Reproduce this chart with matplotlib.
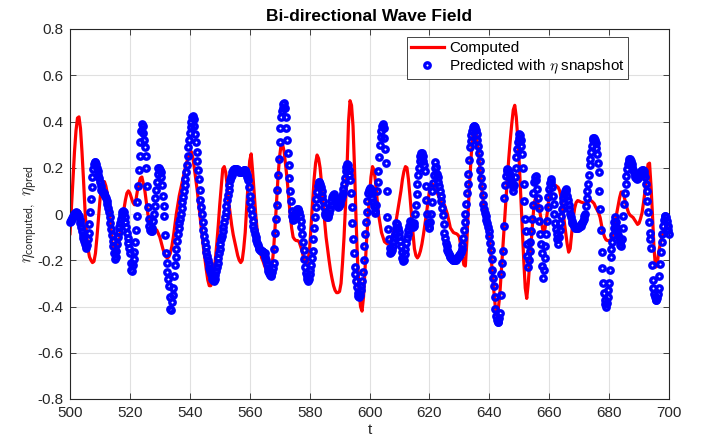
import numpy as np
import matplotlib
matplotlib.use("Agg")
import matplotlib.pyplot as plt

plt.rcParams['font.family'] = ['Liberation Sans', 'DejaVu Sans']
plt.rcParams['mathtext.fontset'] = 'cm'
plt.rcParams['axes.unicode_minus'] = False

# computed surface elevation, sampled every 0.5 s from t=500 to t=700
eta_computed = [
    -0.085, 0.03, 0.15, 0.27, 0.36, 0.415, 0.42, 0.37, 0.27, 0.15, 0.02, -0.08, -0.15, -0.185, -0.2, -0.21, -0.205, -0.17, -0.1, -0.02,
    0.06, 0.12, 0.14, 0.14, 0.12, 0.085, 0.04, -0.04, -0.12, -0.155, -0.17, -0.165, -0.15, -0.11, -0.07, -0.02, 0.02, 0.06, 0.09, 0.10,
    0.09, 0.07, 0.05, 0.04, 0.06, 0.1, 0.13, 0.155, 0.16, 0.13, 0.1, 0.05, 0.0, -0.03, -0.05, -0.055, -0.06, -0.065, -0.07, -0.085,
    -0.1, -0.125, -0.15, -0.17, -0.185, -0.19, -0.185, -0.17, -0.14, -0.1, -0.05, 0.0, 0.04, 0.08, 0.11, 0.14, 0.17, 0.2, 0.225, 0.245,
    0.26, 0.27, 0.245, 0.2, 0.15, 0.1, 0.04, -0.02, -0.08, -0.14, -0.19, -0.24, -0.285, -0.31, -0.31, -0.29, -0.25, -0.2, -0.13, -0.05,
    0.04, 0.12, 0.195, 0.205, 0.18, 0.12, 0.05, 0.0, -0.05, -0.09, -0.12, -0.15, -0.18, -0.2, -0.21, -0.2, -0.15, -0.08, 0.03, 0.14,
    0.23, 0.26, 0.18, 0.09, 0.0, -0.07, -0.12, -0.16, -0.19, -0.205, -0.225, -0.24, -0.25, -0.26, -0.25, -0.22, -0.15, -0.05, 0.06, 0.17,
    0.25, 0.3, 0.3, 0.27, 0.21, 0.15, 0.075, 0.0, -0.06, -0.1, -0.11, -0.115, -0.115, -0.12, -0.14, -0.16, -0.19, -0.21, -0.22, -0.2,
    -0.15, -0.05, 0.05, 0.15, 0.22, 0.255, 0.24, 0.2, 0.13, 0.05, -0.03, -0.1, -0.15, -0.2, -0.245, -0.28, -0.31, -0.33, -0.34, -0.34,
    -0.335, -0.3, -0.21, -0.1, 0.04, 0.2, 0.4, 0.49, 0.47, 0.38, 0.2, -0.02, -0.2, -0.33, -0.4, -0.42, -0.36, -0.24, -0.12, -0.02,
    0.08, 0.16, 0.205, 0.19, 0.14, 0.07, 0.0, -0.04, -0.08, -0.1, -0.12, -0.125, -0.13, -0.13, -0.12, -0.1, -0.08, -0.05, -0.02, 0.02,
    0.06, 0.1, 0.15, 0.185, 0.205, 0.2, 0.15, 0.08, 0.0, -0.08, -0.15, -0.18, -0.19, -0.18, -0.16, -0.13, -0.09, -0.045, 0.0, 0.05,
    0.1, 0.125, 0.13, 0.12, 0.11, 0.095, 0.08, 0.065, 0.05, 0.045, 0.04, 0.02, 0.0, -0.03, -0.06, -0.07, -0.08, -0.083, -0.085, -0.09,
    -0.1, -0.14, -0.18, -0.22, -0.225, -0.12, 0.03, 0.15, 0.26, 0.34, 0.37, 0.36, 0.31, 0.25, 0.18, 0.11, 0.05, 0.01, -0.03, -0.06,
    -0.1, -0.17, -0.25, -0.33, -0.4, -0.44, -0.41, -0.35, -0.25, -0.15, -0.05, 0.05, 0.15, 0.24, 0.32, 0.39, 0.45, 0.47, 0.42, 0.33,
    0.22, 0.08, -0.05, -0.2, -0.32, -0.365, -0.3, -0.21, -0.12, -0.03, 0.05, 0.07, 0.06, 0.03, 0.0, -0.04, -0.08, -0.07, -0.03, 0.02,
    0.08, 0.105, 0.12, 0.125, 0.125, 0.12, 0.115, 0.1, 0.07, 0.02, -0.03, -0.08, -0.13, -0.165, -0.15, -0.085, -0.02, 0.025, 0.05, 0.058,
    0.056, 0.052, 0.05, 0.048, 0.046, 0.045, 0.05, 0.06, 0.058, 0.052, 0.045, 0.03, 0.018, 0.005, -0.015, -0.05, -0.08, -0.1, -0.112, -0.115,
    -0.115, -0.112, -0.1, -0.07, -0.035, 0.0, 0.035, 0.07, 0.095, 0.095, 0.075, 0.05, 0.025, 0.005, -0.005, -0.01, -0.015, -0.025, -0.035, -0.045,
    -0.04, -0.02, 0.005, 0.05, 0.1, 0.16, 0.215, 0.22, 0.12, -0.01, -0.15, -0.23, -0.225, -0.17, -0.135, -0.105, -0.085, -0.065, -0.055, -0.048,
    -0.045,
]

# predicted from the eta snapshot, sampled every 0.25 s
eta_pred = [
    -0.035, -0.03, -0.025, -0.018, -0.01, -0.005, 0.0, 0.005, 0.007, 0.006, 0.003, -0.003, -0.01, -0.025, -0.04, -0.058, -0.075, -0.09, -0.105, -0.118,
    -0.13, -0.14, -0.145, -0.135, -0.11, -0.08, -0.045, 0.01, 0.065, 0.115, 0.16, 0.195, 0.215, 0.225, 0.225, 0.215, 0.2, 0.185, 0.17, 0.155,
    0.14, 0.12, 0.105, 0.1, 0.095, 0.09, 0.085, 0.078, 0.07, 0.058, 0.045, 0.028, 0.01, -0.015, -0.04, -0.065, -0.09, -0.115, -0.14, -0.17,
    -0.195, -0.185, -0.16, -0.13, -0.1, -0.078, -0.055, -0.037, -0.02, -0.004, 0.01, 0.015, 0.01, -0.012, -0.035, -0.058, -0.08, -0.102, -0.125, -0.148,
    -0.17, -0.21, -0.24, -0.245, -0.22, -0.195, -0.165, -0.12, -0.07, -0.01, 0.05, 0.12, 0.19, 0.25, 0.31, 0.36, 0.39, 0.38, 0.35, 0.32,
    0.29, 0.25, 0.2, 0.12, 0.03, -0.02, -0.05, -0.068, -0.075, -0.072, -0.06, -0.03, 0.0, 0.035, 0.07, 0.105, 0.14, 0.175, 0.2, 0.2,
    0.19, 0.18, 0.16, 0.125, 0.08, 0.035, -0.01, -0.09, -0.17, -0.21, -0.25, -0.28, -0.31, -0.36, -0.41, -0.415, -0.38, -0.35, -0.32, -0.27,
    -0.22, -0.185, -0.15, -0.118, -0.085, -0.062, -0.04, -0.02, 0.0, 0.025, 0.05, 0.075, 0.1, 0.125, 0.15, 0.18, 0.21, 0.25, 0.29, 0.32,
    0.35, 0.375, 0.4, 0.42, 0.425, 0.41, 0.38, 0.345, 0.31, 0.27, 0.23, 0.19, 0.15, 0.105, 0.06, 0.03, 0.0, -0.035, -0.07, -0.095,
    -0.12, -0.143, -0.165, -0.183, -0.2, -0.218, -0.235, -0.248, -0.26, -0.27, -0.28, -0.287, -0.29, -0.28, -0.265, -0.248, -0.23, -0.21, -0.19, -0.17,
    -0.15, -0.13, -0.11, -0.093, -0.075, -0.055, -0.035, -0.013, 0.01, 0.035, 0.06, 0.083, 0.105, 0.125, 0.145, 0.158, 0.17, 0.18, 0.19, 0.193,
    0.195, 0.196, 0.195, 0.193, 0.19, 0.186, 0.182, 0.18, 0.18, 0.182, 0.185, 0.188, 0.19, 0.192, 0.19, 0.18, 0.17, 0.16, 0.145, 0.115,
    0.08, 0.05, 0.02, -0.005, -0.03, -0.05, -0.07, -0.085, -0.1, -0.113, -0.125, -0.135, -0.145, -0.15, -0.155, -0.158, -0.16, -0.162, -0.165, -0.167,
    -0.17, -0.185, -0.2, -0.218, -0.235, -0.245, -0.255, -0.263, -0.27, -0.265, -0.25, -0.235, -0.21, -0.15, -0.08, -0.02, 0.04, 0.105, 0.17, 0.24,
    0.31, 0.37, 0.42, 0.445, 0.46, 0.475, 0.48, 0.46, 0.42, 0.37, 0.32, 0.265, 0.21, 0.155, 0.1, 0.055, 0.015, -0.01, -0.025, -0.02,
    -0.01, 0.003, 0.015, 0.02, 0.02, 0.017, 0.01, -0.01, -0.03, -0.057, -0.085, -0.12, -0.155, -0.195, -0.23, -0.255, -0.27, -0.283, -0.29, -0.28,
    -0.26, -0.24, -0.22, -0.19, -0.16, -0.11, -0.06, -0.015, 0.03, 0.065, 0.095, 0.12, 0.14, 0.14, 0.13, 0.117, 0.1, 0.078, 0.055, 0.03,
    0.005, -0.005, -0.01, -0.013, -0.015, -0.006, 0.005, 0.022, 0.04, 0.058, 0.075, 0.082, 0.085, 0.08, 0.07, 0.06, 0.05, 0.04, 0.032, 0.036,
    0.045, 0.055, 0.065, 0.077, 0.09, 0.108, 0.13, 0.157, 0.185, 0.205, 0.215, 0.21, 0.19, 0.17, 0.145, 0.09, 0.03, -0.04, -0.11, -0.17,
    -0.23, -0.26, -0.29, -0.315, -0.34, -0.355, -0.36, -0.35, -0.33, -0.31, -0.29, -0.25, -0.2, -0.14, -0.085, -0.035, 0.01, 0.055, 0.09, 0.105,
    0.11, 0.112, 0.105, 0.09, 0.07, 0.05, 0.035, 0.015, 0.005, 0.04, 0.1, 0.14, 0.185, 0.245, 0.3, 0.335, 0.36, 0.38, 0.39, 0.37,
    0.33, 0.28, 0.22, 0.1, -0.015, -0.065, -0.11, -0.145, -0.17, -0.165, -0.155, -0.138, -0.12, -0.1, -0.085, -0.06, -0.04, -0.045, -0.06, -0.078,
    -0.095, -0.118, -0.14, -0.165, -0.19, -0.205, -0.2, -0.175, -0.15, -0.127, -0.105, -0.087, -0.07, -0.05, -0.03, -0.033, -0.04, -0.05, -0.055, -0.05,
    -0.04, 0.0, 0.04, 0.085, 0.13, 0.17, 0.2, 0.23, 0.25, 0.262, 0.265, 0.25, 0.23, 0.21, 0.185, 0.12, 0.06, 0.0, -0.04, -0.055,
    -0.06, -0.035, 0.0, 0.05, 0.1, 0.135, 0.17, 0.2, 0.225, 0.205, 0.175, 0.158, 0.14, 0.12, 0.1, 0.078, 0.055, 0.025, -0.005, -0.043,
    -0.08, -0.103, -0.125, -0.14, -0.155, -0.165, -0.175, -0.182, -0.188, -0.192, -0.196, -0.198, -0.2, -0.2, -0.2, -0.198, -0.195, -0.192, -0.188, -0.183,
    -0.178, -0.172, -0.165, -0.152, -0.135, -0.105, -0.07, -0.035, 0.0, 0.045, 0.09, 0.13, 0.175, 0.235, 0.29, 0.315, 0.34, 0.36, 0.375, 0.38,
    0.38, 0.375, 0.365, 0.345, 0.32, 0.295, 0.265, 0.23, 0.19, 0.155, 0.12, 0.083, 0.045, 0.022, 0.005, -0.01, -0.025, -0.04, -0.055, -0.075,
    -0.095, -0.125, -0.155, -0.195, -0.24, -0.275, -0.31, -0.36, -0.41, -0.44, -0.46, -0.468, -0.465, -0.45, -0.43, -0.35, -0.26, -0.21, -0.16, -0.05,
    0.07, 0.125, 0.165, 0.185, 0.195, 0.19, 0.18, 0.17, 0.16, 0.145, 0.13, 0.115, 0.1, 0.125, 0.16, 0.2, 0.245, 0.28, 0.31, 0.33,
    0.345, 0.34, 0.32, 0.295, 0.26, 0.2, 0.13, 0.055, -0.02, -0.075, -0.13, -0.18, -0.23, -0.2, -0.16, -0.12, -0.075, -0.02, 0.04, 0.09,
    0.14, 0.16, 0.165, 0.145, 0.11, 0.07, 0.025, -0.03, -0.085, -0.13, -0.17, -0.225, -0.275, -0.24, -0.19, -0.14, -0.085, -0.03, 0.03, 0.075,
    0.11, 0.135, 0.15, 0.14, 0.115, 0.08, 0.045, 0.0, -0.04, -0.063, -0.085, -0.11, -0.13, -0.1, -0.07, -0.04, -0.01, 0.02, 0.05, 0.07,
    0.085, 0.1, 0.11, 0.1, 0.08, 0.06, 0.04, 0.02, 0.0, -0.015, -0.03, -0.038, -0.045, -0.052, -0.058, -0.06, -0.06, -0.06, -0.06, -0.058,
    -0.055, -0.052, -0.05, -0.045, -0.04, -0.03, -0.02, -0.01, 0.0, 0.035, 0.07, 0.1, 0.13, 0.17, 0.21, 0.24, 0.27, 0.295, 0.32, 0.33,
    0.33, 0.32, 0.305, 0.285, 0.26, 0.22, 0.18, 0.1, 0.02, -0.07, -0.165, -0.235, -0.3, -0.34, -0.37, -0.39, -0.4, -0.385, -0.36, -0.33,
    -0.3, -0.24, -0.185, -0.15, -0.12, -0.09, -0.06, -0.035, -0.015, -0.035, -0.06, -0.075, -0.09, -0.105, -0.12, -0.132, -0.14, -0.11, -0.06, -0.01,
    0.045, 0.09, 0.13, 0.165, 0.195, 0.215, 0.23, 0.238, 0.24, 0.23, 0.215, 0.202, 0.19, 0.18, 0.17, 0.162, 0.155, 0.153, 0.155, 0.16,
    0.165, 0.172, 0.18, 0.187, 0.192, 0.19, 0.185, 0.175, 0.16, 0.13, 0.1, 0.055, 0.01, -0.035, -0.08, -0.11, -0.145, -0.22, -0.285, -0.32,
    -0.345, -0.36, -0.37, -0.37, -0.365, -0.345, -0.32, -0.27, -0.215, -0.165, -0.12, -0.085, -0.05, -0.028, -0.01, -0.008, -0.015, -0.03, -0.05, -0.068,
    -0.085,
]

t_start, t_end = 500, 700
x_ticks = [500, 520, 540, 560, 580, 600, 620, 640, 660, 680, 700]
y_ticks = [-0.8, -0.6, -0.4, -0.2, 0, 0.2, 0.4, 0.6, 0.8]
y_ticklabels = ['-0.8', '-0.6', '-0.4', '-0.2', '0', '0.2', '0.4', '0.6', '0.8']

t_computed = np.linspace(t_start, t_end, len(eta_computed))
t_pred = np.linspace(t_start, t_end, len(eta_pred))

dark = '#262626'
fig = plt.figure(figsize=(7.08, 4.45), dpi=100)
ax = fig.add_axes([70 / 708, 46 / 445, 599 / 708, 370 / 445])

ax.plot(t_computed, eta_computed, color='red', lw=2.3, label='Computed', zorder=2)
ax.plot(t_pred, eta_pred, ls='none', marker='o', ms=3.9, mew=2.4, mec='blue', mfc='none',
        label=r'Predicted with $\eta$ snapshot', zorder=3, clip_on=False)

ax.set_xlim(t_start, t_end)
ax.set_ylim(-0.8, 0.8)
ax.set_xticks(x_ticks)
ax.set_yticks(y_ticks)
ax.set_yticklabels(y_ticklabels)
ax.grid(True, color='#e0e0e0', lw=0.8)
ax.set_axisbelow(True)
ax.tick_params(direction='in', top=True, right=True, length=4, width=0.6,
               colors=dark, labelsize=11, pad=5)
for s in ax.spines.values():
    s.set_color(dark)
    s.set_linewidth(0.8)

ax.set_title('Bi-directional Wave Field', fontweight='bold', fontsize=12.5, pad=6)
ax.set_xlabel('t', fontsize=11, color=dark, labelpad=2)
ax.set_ylabel(r'$\eta_{\mathsf{computed},}\ \eta_{\mathsf{pred}}$', fontsize=12, color=dark, labelpad=-2)

leg = ax.legend(loc='upper right', bbox_to_anchor=(0.932, 0.978), fontsize=11,
                fancybox=False, framealpha=1, edgecolor=dark, handlelength=2.2,
                handletextpad=0.3, borderpad=0.25, labelspacing=0.15, borderaxespad=0)
leg.get_frame().set_linewidth(0.6)

fig.savefig('out.png', dpi=100)
